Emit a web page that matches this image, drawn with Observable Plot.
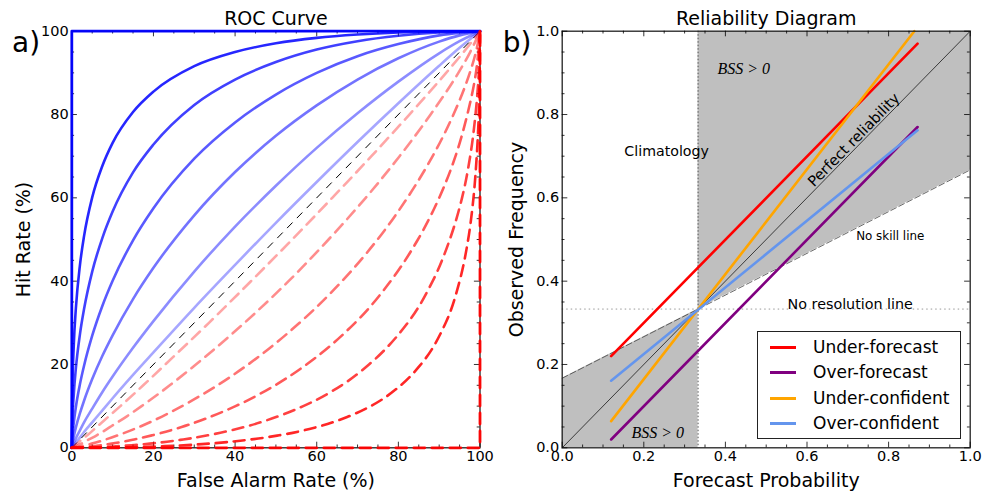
<!DOCTYPE html>
<html><head><meta charset="utf-8">
<script src="https://cdn.jsdelivr.net/npm/d3@7"></script>
<script src="https://cdn.jsdelivr.net/npm/@observablehq/plot@0.6"></script>
<style>
body{margin:0;background:#fff;}
#wrap{position:relative;width:982px;height:496px;font-family:"DejaVu Sans";}
#wrap svg{position:absolute;top:0;display:block;}
.legend{position:absolute;box-sizing:border-box;background:#fff;border:1.3px solid #222;}
.legend .row{position:absolute;left:0;height:20px;width:100%;}
.legend .sw{position:absolute;left:12px;top:9px;width:26px;height:3px;}
.legend .lb{position:absolute;left:55px;top:0;font-size:17px;line-height:20px;color:#000;font-family:"DejaVu Sans";}
</style></head><body><div id="wrap"></div>
<script>
// ---------- ROC panel data ----------
const falseAlarm = [0, 0.1, 0.5, 1, 2, 3, 5, 7.5, 10, 15, 20, 30, 40, 50, 60, 70, 80, 90, 95, 100];
const hit1 = [0, 11.7, 25.0, 33.5, 43.9, 50.8, 60.1, 67.7, 73.2, 80.6, 85.5, 91.6, 95.0, 97.1, 98.4, 99.2, 99.7, 99.93, 99.98, 100];
const hit2 = [0, 5.1, 13.0, 19.1, 27.3, 33.3, 42.3, 50.4, 56.7, 66.1, 72.8, 82.3, 88.4, 92.6, 95.6, 97.6, 98.9, 99.7, 99.9, 100];
const hit3 = [0, 2.0, 6.1, 9.8, 15.3, 19.7, 26.9, 34.1, 40.1, 49.8, 57.5, 69.4, 78.1, 84.8, 90.0, 94.0, 96.9, 99.0, 99.6, 100];
const hit4 = [0, 0.8, 2.8, 4.9, 8.3, 11.3, 16.5, 22.1, 27.0, 35.7, 43.2, 55.8, 66.2, 74.9, 82.2, 88.4, 93.5, 97.5, 99.0, 100];
const hit5 = [0, 0.3, 1.2, 2.3, 4.2, 6.1, 9.4, 13.4, 17.1, 24.0, 30.4, 42.3, 53.1, 62.9, 72.0, 80.3, 87.9, 94.7, 97.6, 100];
const hit6 = [0, 0.1, 0.7, 1.3, 2.5, 3.8, 6.1, 9.0, 11.9, 17.5, 22.9, 33.6, 43.9, 54.0, 63.8, 73.4, 82.7, 91.7, 96.0, 100];
const curveAlpha = [0.85, 0.75, 0.65, 0.55, 0.45, 0.35];
const perfectRocF = [0, 0, 100];
const perfectRocH = [0, 100, 100];
const worstRocF = [0, 100, 100];
const worstRocH = [0, 0, 100];
const chanceF = [0, 100];
const chanceH = [0, 100];
const rocTicks = [0, 20, 40, 60, 80, 100];
const rocMinor = [5,10,15,25,30,35,45,50,55,65,70,75,85,90,95];

// ---------- Reliability panel data ----------
const climatology = 0.333;
const noSkillX = [0, 0.333, 1];
const noSkillY = [0.167, 0.333, 0.667];
const seriesNames = ["Under-forecast", "Over-forecast", "Under-confident", "Over-confident"];
const seriesColors = ["#ff0000", "#800080", "#ffa500", "#6495ed"];
const seriesX0 = [0.12, 0.12, 0.12, 0.12];
const seriesY0 = [0.22, 0.02, 0.064, 0.161];
const seriesX1 = [0.871, 0.871, 0.863, 0.871];
const seriesY1 = [0.970, 0.770, 1.0, 0.762];
const relTicks = [0, 0.2, 0.4, 0.6, 0.8, 1.0];
const relMinor = [0.05,0.1,0.15,0.25,0.3,0.35,0.45,0.5,0.55,0.65,0.7,0.75,0.85,0.9,0.95];
const annoText = ["Climatology", "No resolution line", "No skill line"];
const annoX = [0.256, 0.706, 0.804];
const annoY = [0.711, 0.345, 0.509];
const annoSize = [14.2, 14.3, 11.9];
const bssX = [0.445, 0.234];
const bssY = [0.909, 0.037];

// ---------- layout ----------
const W = 491, H = 496, mT = 30.7, mB = 48.7;
const fh = H - mT - mB;
const styleBase = {fontFamily: "DejaVu Sans", fontSize: "14.5px", color: "#000", background: "transparent", overflow: "visible"};
const mid = {textAnchor: "middle", lineAnchor: "middle"};

function tickMarks(major, minor, fw) {
  const st = {stroke: "#000", strokeWidth: 0.8, strokeOpacity: 1};
  const a = 5.6, b = 2.8;
  return [
    Plot.tickX(major, {x: d => d, insetTop: fh - a, ...st}),
    Plot.tickX(major, {x: d => d, insetBottom: fh - a, ...st}),
    Plot.tickX(minor, {x: d => d, insetTop: fh - b, ...st}),
    Plot.tickX(minor, {x: d => d, insetBottom: fh - b, ...st}),
    Plot.tickY(major, {y: d => d, insetRight: fw - a, ...st}),
    Plot.tickY(major, {y: d => d, insetLeft: fw - a, ...st}),
    Plot.tickY(minor, {y: d => d, insetRight: fw - b, ...st}),
    Plot.tickY(minor, {y: d => d, insetLeft: fw - b, ...st})
  ];
}
const zip = (xs, ys) => xs.map((x, i) => ({x, y: ys[i]}));

// ---------- Left: ROC ----------
const hits = [hit1, hit2, hit3, hit4, hit5, hit6];
const mLa = 71.3, mRa = 11.5, fwa = W - mLa - mRa;
const blueMarks = hits.map((h, i) => Plot.line(zip(falseAlarm, h), {x: "x", y: "y", stroke: "#0000ff", strokeOpacity: curveAlpha[i], strokeWidth: 2.6, curve: "monotone-x"}));
const redMarks = hits.map((h, i) => Plot.line(zip(h, falseAlarm), {x: "x", y: "y", stroke: "#ff0000", strokeOpacity: curveAlpha[i], strokeWidth: 2.6, strokeDasharray: "11,7", curve: "monotone-y"}));

const left = Plot.plot({
  width: W, height: H, marginLeft: mLa, marginRight: mRa, marginTop: mT, marginBottom: mB,
  x: {domain: [0, 100]}, y: {domain: [0, 100]},
  style: styleBase,
  marks: [
    Plot.frame({stroke: "#222", strokeWidth: 1.3}),
    ...tickMarks(rocTicks, rocMinor, fwa),
    Plot.axisX({ticks: rocTicks, tickSize: 0, tickPadding: 2.5, fontSize: 14.5, label: null}),
    Plot.axisY({ticks: rocTicks, tickSize: 0, tickPadding: 3, fontSize: 14.5, label: null}),
    Plot.line(zip(chanceF, chanceH), {x: "x", y: "y", stroke: "#000", strokeWidth: 1, strokeDasharray: "7,7"}),
    ...blueMarks,
    Plot.line(zip(perfectRocF, perfectRocH), {x: "x", y: "y", stroke: "#0000ff", strokeOpacity: 0.95, strokeWidth: 2.8}),
    ...redMarks,
    Plot.line(zip(worstRocF, worstRocH), {x: "x", y: "y", stroke: "#ff0000", strokeOpacity: 0.95, strokeWidth: 2.8, strokeDasharray: "11,7"}),
    Plot.text(["ROC Curve"], {text: d => d, frameAnchor: "top", dy: -12.4, fontSize: 19, ...mid}),
    Plot.text(["False Alarm Rate (%)"], {text: d => d, frameAnchor: "bottom", dy: 32.7, fontSize: 19, ...mid}),
    Plot.text(["Hit Rate (%)"], {text: d => d, frameAnchor: "left", rotate: -90, dx: -48, fontSize: 19, ...mid}),
    Plot.text(["a)"], {text: d => d, frameAnchor: "top-left", textAnchor: "start", lineAnchor: "middle", dx: -59.8, dy: 11.5, fontSize: 28})
  ]
});
left.style.left = "0px";

// ---------- Right: Reliability ----------
const mLb = 70.7, mRb = 12.3, fwb = W - mLb - mRb;
const fillRegions = [
  {x: noSkillX[0], y1: 0, y2: noSkillY[0], g: "low"},
  {x: noSkillX[1], y1: 0, y2: noSkillY[1], g: "low"},
  {x: noSkillX[1], y1: noSkillY[1], y2: 1, g: "high"},
  {x: noSkillX[2], y1: noSkillY[2], y2: 1, g: "high"}
];
const seriesLines = seriesNames.map((n, i) => Plot.line([{x: seriesX0[i], y: seriesY0[i]}, {x: seriesX1[i], y: seriesY1[i]}], {x: "x", y: "y", stroke: seriesColors[i], strokeWidth: 2.6}));
const annos = annoText.map((t, i) => ({t, x: annoX[i], y: annoY[i], s: annoSize[i]}));

const right = Plot.plot({
  width: W, height: H, marginLeft: mLb, marginRight: mRb, marginTop: mT, marginBottom: mB,
  x: {domain: [0, 1]}, y: {domain: [0, 1]},
  style: styleBase,
  marks: [
    Plot.areaY(fillRegions, {x: "x", y1: "y1", y2: "y2", z: "g", fill: "#bfbfbf"}),
    Plot.ruleY([climatology], {stroke: "#999", strokeWidth: 1, strokeDasharray: "1.5,3"}),
    Plot.ruleX([climatology], {stroke: "#555", strokeWidth: 1, strokeDasharray: "1.5,2"}),
    Plot.line(zip(noSkillX, noSkillY), {x: "x", y: "y", stroke: "#444", strokeWidth: 0.8, strokeDasharray: "6,3"}),
    Plot.line(zip([0, 1], [0, 1]), {x: "x", y: "y", stroke: "#000", strokeWidth: 0.7}),
    ...seriesLines,
    Plot.frame({stroke: "#222", strokeWidth: 1.3}),
    ...tickMarks(relTicks, relMinor, fwb),
    Plot.axisX({ticks: relTicks, tickSize: 0, tickPadding: 2.5, fontSize: 14.5, label: null, tickFormat: d3.format(".1f")}),
    Plot.axisY({ticks: relTicks, tickSize: 0, tickPadding: 3, fontSize: 14.5, label: null, tickFormat: d3.format(".1f")}),
    ...annos.map(a => Plot.text([a], {x: "x", y: "y", text: "t", fontSize: a.s, ...mid})),
    Plot.text(bssX.map((x, i) => ({x, y: bssY[i]})), {x: "x", y: "y", text: () => "BSS > 0", fontFamily: "Liberation Serif", fontStyle: "italic", fontSize: 16, ...mid}),
    Plot.text([{x: 0.715, y: 0.739}], {x: "x", y: "y", text: () => "Perfect reliability", rotate: -45.6, fontSize: 14.7, ...mid}),
    Plot.text(["Reliability Diagram"], {text: d => d, frameAnchor: "top", dy: -12.4, fontSize: 19, ...mid}),
    Plot.text(["Forecast Probability"], {text: d => d, frameAnchor: "bottom", dy: 32.7, fontSize: 19, ...mid}),
    Plot.text(["Observed Frequency"], {text: d => d, frameAnchor: "left", rotate: -90, dx: -45.7, fontSize: 19, ...mid}),
    Plot.text(["b)"], {text: d => d, frameAnchor: "top-left", textAnchor: "start", lineAnchor: "middle", dx: -59.5, dy: 11.5, fontSize: 28})
  ]
});
right.style.left = "491px";

const wrap = document.getElementById("wrap");
wrap.appendChild(left);
wrap.appendChild(right);

// ---------- Legend ----------
const leg = document.createElement("div");
leg.className = "legend";
Object.assign(leg.style, {left: "757px", top: "331px", width: "204px", height: "108px"});
const rowCenters = [15, 40, 65.7, 90.7];
seriesNames.forEach((n, i) => {
  const r = document.createElement("div");
  r.className = "row";
  r.style.top = (rowCenters[i] - 10) + "px";
  const sw = document.createElement("div");
  sw.className = "sw";
  sw.style.background = seriesColors[i];
  const lb = document.createElement("div");
  lb.className = "lb";
  lb.textContent = n;
  r.appendChild(sw); r.appendChild(lb);
  leg.appendChild(r);
});
wrap.appendChild(leg);
</script></body></html>
